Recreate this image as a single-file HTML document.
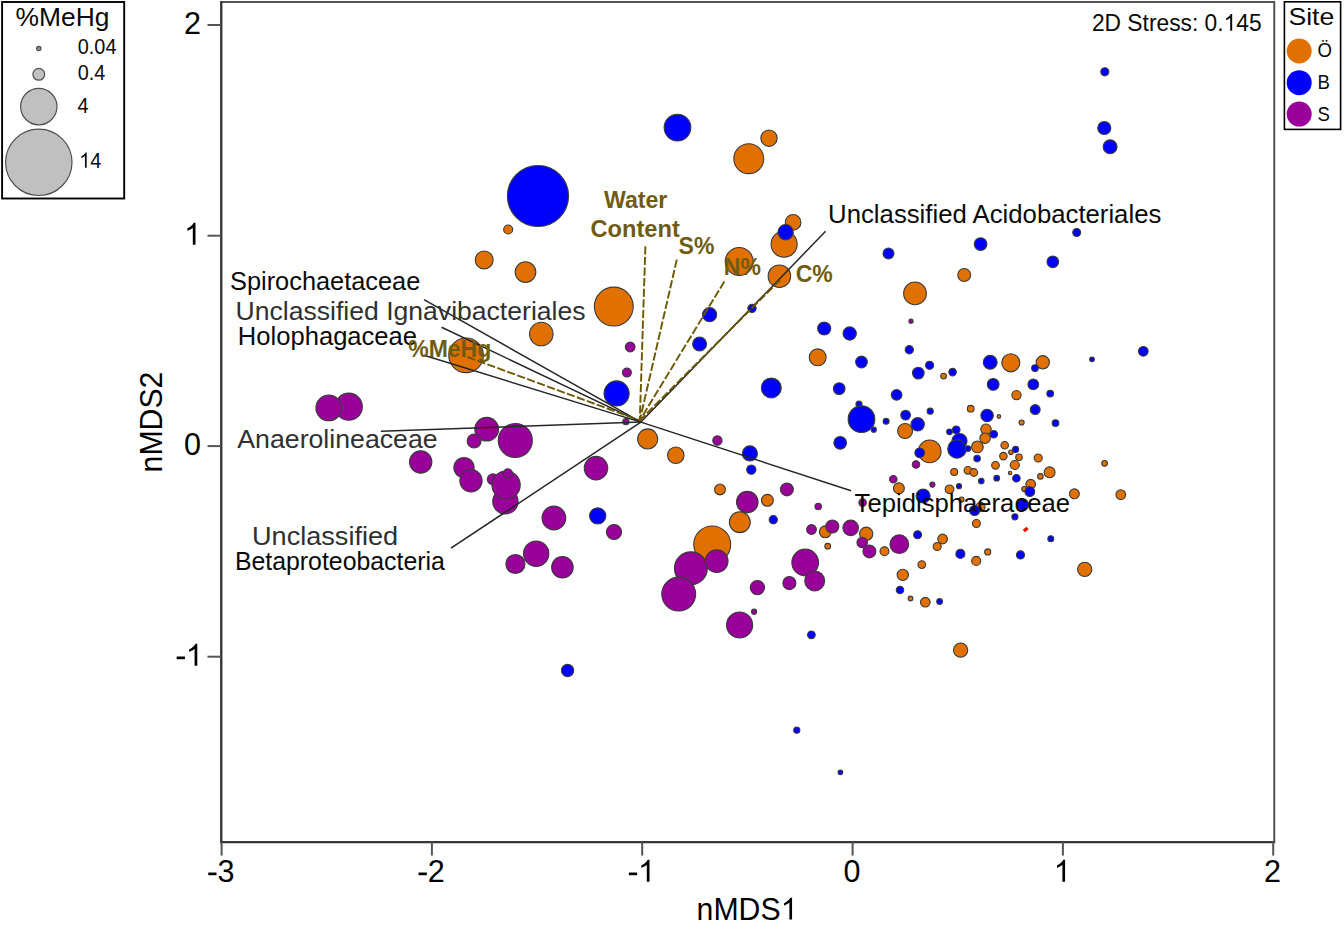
<!DOCTYPE html>
<html><head><meta charset="utf-8"><title>nMDS</title>
<style>
html,body{margin:0;padding:0;background:#fff;}
body{width:1344px;height:926px;overflow:hidden;font-family:"Liberation Sans",sans-serif;}
svg{display:block;}
text{font-family:"Liberation Sans",sans-serif;}
.lab{font-size:25.5px;fill:#222;}
.env{font-size:22.5px;font-weight:bold;fill:#7A6420;}
.tick{font-size:32px;fill:#000;}
.c{stroke:#3a3a3a;stroke-width:1.1;}
</style></head><body>
<svg width="1344" height="926" viewBox="0 0 1344 926">
<rect x="0" y="0" width="1344" height="926" fill="#fff"/>
<rect x="221.25" y="2" width="1053" height="840" fill="none" stroke="#555" stroke-width="2"/>
<path d="M221.25 1V842.2H1275" fill="none" stroke="#333" stroke-width="2"/>
<line x1="221.6" y1="842" x2="221.6" y2="855.6" stroke="#555" stroke-width="2"/><rect x="208.27" y="872.52" width="8.26" height="2.70" fill="#000"/><text transform="translate(217.49,881.8) scale(0.96,1)" font-size="31.8" fill="#000">3</text>
<line x1="431.9" y1="842" x2="431.9" y2="855.6" stroke="#555" stroke-width="2"/><rect x="418.57" y="872.52" width="8.26" height="2.70" fill="#000"/><text transform="translate(427.79,881.8) scale(0.96,1)" font-size="31.8" fill="#000">2</text>
<line x1="642.1999999999999" y1="842" x2="642.1999999999999" y2="855.6" stroke="#555" stroke-width="2"/><rect x="628.87" y="872.52" width="8.26" height="2.70" fill="#000"/><path d="M763 0H583V1147Q518 1085 412.5 1023Q307 961 223 930V1104Q374 1175 487 1276Q600 1377 647 1472H763Z" transform="translate(638.09,881.8) scale(0.014941,-0.014941)" fill="#000"/>
<line x1="852.6" y1="842" x2="852.6" y2="855.6" stroke="#555" stroke-width="2"/><text transform="translate(843.39,881.8) scale(0.96,1)" font-size="31.8" fill="#000">0</text>
<line x1="1062.9" y1="842" x2="1062.9" y2="855.6" stroke="#555" stroke-width="2"/><path d="M763 0H583V1147Q518 1085 412.5 1023Q307 961 223 930V1104Q374 1175 487 1276Q600 1377 647 1472H763Z" transform="translate(1053.69,881.8) scale(0.014941,-0.014941)" fill="#000"/>
<line x1="1273.2" y1="842" x2="1273.2" y2="855.6" stroke="#555" stroke-width="2"/><text transform="translate(1263.99,881.8) scale(0.96,1)" font-size="31.8" fill="#000">2</text>
<line x1="207.5" y1="25" x2="221" y2="25" stroke="#555" stroke-width="2"/><text transform="translate(184.09,34.1) scale(0.96,1)" font-size="31.8" fill="#000">2</text>
<line x1="207.5" y1="235.7" x2="221" y2="235.7" stroke="#555" stroke-width="2"/><path d="M763 0H583V1147Q518 1085 412.5 1023Q307 961 223 930V1104Q374 1175 487 1276Q600 1377 647 1472H763Z" transform="translate(184.09,244.8) scale(0.014941,-0.014941)" fill="#000"/>
<line x1="207.5" y1="446.1" x2="221" y2="446.1" stroke="#555" stroke-width="2"/><text transform="translate(184.09,455.2) scale(0.96,1)" font-size="31.8" fill="#000">0</text>
<line x1="207.5" y1="656.7" x2="221" y2="656.7" stroke="#555" stroke-width="2"/><rect x="176.67" y="656.52" width="8.26" height="2.70" fill="#000"/><path d="M763 0H583V1147Q518 1085 412.5 1023Q307 961 223 930V1104Q374 1175 487 1276Q600 1377 647 1472H763Z" transform="translate(185.89,665.8) scale(0.014941,-0.014941)" fill="#000"/>
<text transform="translate(696.6,919.5) scale(0.96,1)" font-size="31.51" fill="#000">nMDS</text><path d="M763 0H583V1147Q518 1085 412.5 1023Q307 961 223 930V1104Q374 1175 487 1276Q600 1377 647 1472H763Z" transform="translate(780.77,919.5) scale(0.014795,-0.014795)" fill="#000"/>
<text transform="translate(162,422) rotate(-90) scale(0.96,1)" font-size="31.5" fill="#000" text-anchor="middle">nMDS2</text>
<g id="pts">
<circle class="c" cx="538" cy="196" r="30.55" fill="#0000FF"/><circle class="c" cx="677.5" cy="127.6" r="13.35" fill="#0000FF"/><circle class="c" cx="508.2" cy="229.5" r="4.55" fill="#E07000"/><circle class="c" cx="484.2" cy="260" r="8.95" fill="#E07000"/><circle class="c" cx="525.5" cy="272.1" r="10.35" fill="#E07000"/><circle class="c" cx="613.8" cy="306.6" r="19.45" fill="#E07000"/><circle class="c" cx="769" cy="138.2" r="8.15" fill="#E07000"/><circle class="c" cx="748.8" cy="158.7" r="14.95" fill="#E07000"/><circle class="c" cx="793.1" cy="222.4" r="7.85" fill="#E07000"/><circle class="c" cx="784.1" cy="244.2" r="13.05" fill="#E07000"/><circle class="c" cx="785.6" cy="232.2" r="7.65" fill="#0000FF"/><circle class="c" cx="739.2" cy="261.5" r="13.95" fill="#E07000"/><circle class="c" cx="779.4" cy="276.2" r="11.25" fill="#E07000"/><circle class="c" cx="888.5" cy="253.4" r="5.45" fill="#0000FF"/><circle class="c" cx="964.2" cy="275" r="6.45" fill="#E07000"/><circle class="c" cx="915" cy="293.4" r="11.35" fill="#E07000"/><circle class="c" cx="1104.8" cy="71.8" r="4.05" fill="#0000FF"/><circle class="c" cx="1104.3" cy="128" r="6.55" fill="#0000FF"/><circle class="c" cx="1110.1" cy="146.8" r="6.95" fill="#0000FF"/><circle class="c" cx="1076.7" cy="232.5" r="3.95" fill="#0000FF"/><circle class="c" cx="980.6" cy="244.1" r="6.35" fill="#0000FF"/><circle class="c" cx="1052.8" cy="261.8" r="5.85" fill="#0000FF"/><circle class="c" cx="541.3" cy="334" r="11.75" fill="#E07000"/><circle class="c" cx="466.1" cy="355.3" r="17.35" fill="#E07000"/><circle class="c" cx="348.8" cy="406.7" r="13.55" fill="#990099"/><circle class="c" cx="328.8" cy="407.9" r="12.85" fill="#990099"/><circle class="c" cx="486.7" cy="429.2" r="11.85" fill="#990099"/><circle class="c" cx="474.1" cy="441" r="6.95" fill="#990099"/><circle class="c" cx="515.3" cy="440.5" r="17.05" fill="#990099"/><circle class="c" cx="420.7" cy="462" r="11.15" fill="#990099"/><circle class="c" cx="464" cy="467.6" r="10.15" fill="#990099"/><circle class="c" cx="471" cy="480.8" r="11.15" fill="#990099"/><circle class="c" cx="492.9" cy="479.3" r="5.55" fill="#990099"/><circle class="c" cx="505.4" cy="501.4" r="12.65" fill="#990099"/><circle class="c" cx="506.1" cy="485.1" r="14.15" fill="#990099"/><circle class="c" cx="507.9" cy="473.3" r="4.55" fill="#990099"/><circle class="c" cx="553.9" cy="518" r="11.85" fill="#990099"/><circle class="c" cx="536.2" cy="553.7" r="12.65" fill="#990099"/><circle class="c" cx="515.4" cy="564" r="9.55" fill="#990099"/><circle class="c" cx="562.4" cy="567.3" r="10.75" fill="#990099"/><circle class="c" cx="630.2" cy="347" r="4.85" fill="#990099"/><circle class="c" cx="626.9" cy="372.6" r="4.45" fill="#990099"/><circle class="c" cx="616.6" cy="393.4" r="12.55" fill="#0000FF"/><circle class="c" cx="625.9" cy="421.7" r="3.05" fill="#990099"/><circle class="c" cx="647.7" cy="438.9" r="10.05" fill="#E07000"/><circle class="c" cx="675.8" cy="455.2" r="8.25" fill="#E07000"/><circle class="c" cx="717.4" cy="440.5" r="4.65" fill="#990099"/><circle class="c" cx="749.9" cy="453.4" r="7.55" fill="#0000FF"/><circle class="c" cx="709.6" cy="314.7" r="7.05" fill="#0000FF"/><circle class="c" cx="699.6" cy="344" r="6.95" fill="#0000FF"/><circle class="c" cx="752" cy="308.4" r="4.15" fill="#0000FF"/><circle class="c" cx="824.2" cy="328.5" r="6.55" fill="#0000FF"/><circle class="c" cx="849.7" cy="333.5" r="6.65" fill="#0000FF"/><circle class="c" cx="817.7" cy="357.3" r="8.45" fill="#E07000"/><circle class="c" cx="861.5" cy="362" r="5.85" fill="#0000FF"/><circle class="c" cx="771.3" cy="387.9" r="9.95" fill="#0000FF"/><circle class="c" cx="839.2" cy="388.6" r="5.85" fill="#0000FF"/><circle class="c" cx="859" cy="404.2" r="3.05" fill="#0000FF"/><circle class="c" cx="861.5" cy="419.2" r="13.35" fill="#0000FF"/><circle class="c" cx="886.1" cy="421.2" r="2.95" fill="#0000FF"/><circle class="c" cx="873.8" cy="429.7" r="2.55" fill="#0000FF"/><circle class="c" cx="840.2" cy="442.8" r="6.35" fill="#0000FF"/><circle class="c" cx="896.6" cy="394.8" r="5.35" fill="#0000FF"/><circle class="c" cx="911" cy="321.2" r="2.05" fill="#990099"/><circle class="c" cx="909.3" cy="349.8" r="4.15" fill="#0000FF"/><circle class="c" cx="929.6" cy="365.3" r="4.05" fill="#0000FF"/><circle class="c" cx="918.3" cy="373.1" r="5.85" fill="#0000FF"/><circle class="c" cx="943.6" cy="376.1" r="2.85" fill="#E07000"/><circle class="c" cx="952.6" cy="372.1" r="3.75" fill="#0000FF"/><circle class="c" cx="990.2" cy="362.3" r="6.95" fill="#0000FF"/><circle class="c" cx="1010.8" cy="362.8" r="9.05" fill="#E07000"/><circle class="c" cx="1042.8" cy="362.3" r="6.65" fill="#E07000"/><circle class="c" cx="1035" cy="368.1" r="3.35" fill="#0000FF"/><circle class="c" cx="1092" cy="359.3" r="2.35" fill="#0000FF"/><circle class="c" cx="1143.3" cy="351.3" r="4.85" fill="#0000FF"/><circle class="c" cx="993.2" cy="384.4" r="5.85" fill="#0000FF"/><circle class="c" cx="1033.3" cy="384.4" r="5.35" fill="#0000FF"/><circle class="c" cx="1016.5" cy="395.1" r="4.65" fill="#E07000"/><circle class="c" cx="1050.2" cy="393.6" r="3.35" fill="#0000FF"/><circle class="c" cx="905.6" cy="415.1" r="4.85" fill="#0000FF"/><circle class="c" cx="930.2" cy="411.2" r="3.05" fill="#0000FF"/><circle class="c" cx="905.1" cy="431" r="7.45" fill="#E07000"/><circle class="c" cx="917.7" cy="424.3" r="6.65" fill="#0000FF"/><circle class="c" cx="929.7" cy="451.4" r="11.35" fill="#E07000"/><circle class="c" cx="919.7" cy="452.8" r="4.85" fill="#0000FF"/><circle class="c" cx="916" cy="464.5" r="3.75" fill="#990099"/><circle class="c" cx="893.3" cy="479.2" r="3.75" fill="#990099"/><circle class="c" cx="898.9" cy="488.3" r="5.45" fill="#E07000"/><circle class="c" cx="932.4" cy="484.6" r="2.55" fill="#990099"/><circle class="c" cx="923.1" cy="496" r="7.05" fill="#0000FF"/><circle class="c" cx="949.5" cy="489.3" r="4.35" fill="#E07000"/><circle class="c" cx="959" cy="486.2" r="2.55" fill="#0000FF"/><circle class="c" cx="954.2" cy="472" r="3.55" fill="#E07000"/><circle class="c" cx="967.9" cy="470.3" r="3.85" fill="#E07000"/><circle class="c" cx="973.8" cy="472.5" r="3.85" fill="#E07000"/><circle class="c" cx="981.3" cy="481.1" r="2.75" fill="#0000FF"/><circle class="c" cx="977.1" cy="458.6" r="3.25" fill="#0000FF"/><circle class="c" cx="949.5" cy="431.8" r="2.85" fill="#0000FF"/><circle class="c" cx="956.2" cy="429.8" r="3.85" fill="#0000FF"/><circle class="c" cx="959.5" cy="441" r="7.55" fill="#0000FF"/><circle class="c" cx="957" cy="448.9" r="9.25" fill="#0000FF"/><circle class="c" cx="967.9" cy="448.6" r="2.85" fill="#0000FF"/><circle class="c" cx="986" cy="429.3" r="5.25" fill="#E07000"/><circle class="c" cx="977.4" cy="446.9" r="5.85" fill="#E07000"/><circle class="c" cx="985.1" cy="438.2" r="5.25" fill="#E07000"/><circle class="c" cx="993.8" cy="434.3" r="3.75" fill="#0000FF"/><circle class="c" cx="987.1" cy="415.5" r="6.25" fill="#0000FF"/><circle class="c" cx="970.7" cy="408.7" r="3.35" fill="#E07000"/><circle class="c" cx="998.9" cy="416.5" r="1.85" fill="#E07000"/><circle class="c" cx="1004.7" cy="445.2" r="3.75" fill="#E07000"/><circle class="c" cx="1010.9" cy="452.3" r="2.25" fill="#E07000"/><circle class="c" cx="1015.6" cy="449.4" r="3.05" fill="#0000FF"/><circle class="c" cx="1003.4" cy="456.1" r="3.75" fill="#E07000"/><circle class="c" cx="1019" cy="457.3" r="3.25" fill="#E07000"/><circle class="c" cx="995.5" cy="465.3" r="3.85" fill="#E07000"/><circle class="c" cx="1014.8" cy="465" r="4.55" fill="#E07000"/><circle class="c" cx="1010.1" cy="473" r="1.75" fill="#E07000"/><circle class="c" cx="996.7" cy="478.2" r="2.85" fill="#0000FF"/><circle class="c" cx="1016.4" cy="478.2" r="3.75" fill="#0000FF"/><circle class="c" cx="1038.2" cy="458" r="4.05" fill="#E07000"/><circle class="c" cx="1049.6" cy="472.3" r="5.45" fill="#E07000"/><circle class="c" cx="1040.4" cy="476.4" r="2.75" fill="#E07000"/><circle class="c" cx="1030.7" cy="484.2" r="4.85" fill="#E07000"/><circle class="c" cx="1024.3" cy="489.1" r="2.55" fill="#E07000"/><circle class="c" cx="1029.8" cy="491.6" r="4.95" fill="#0000FF"/><circle class="c" cx="1022.8" cy="504.7" r="5.85" fill="#0000FF"/><circle class="c" cx="1074.4" cy="493.8" r="4.95" fill="#E07000"/><circle class="c" cx="1104.6" cy="463.3" r="2.85" fill="#E07000"/><circle class="c" cx="980.5" cy="506.8" r="4.55" fill="#E07000"/><circle class="c" cx="974.6" cy="510.5" r="5.05" fill="#0000FF"/><circle class="c" cx="961.5" cy="499.6" r="2.55" fill="#E07000"/><circle class="c" cx="1014.9" cy="516.8" r="3.05" fill="#0000FF"/><circle class="c" cx="976.4" cy="523.5" r="3.95" fill="#E07000"/><rect x="1023.30" y="527.80" width="4.8" height="3.4" fill="#FF0000" transform="rotate(-38 1025.7 529.5)"/><circle cx="1046.9" cy="508.8" r="1" fill="#ff6060"/><circle class="c" cx="1050.8" cy="538.7" r="2.95" fill="#0000FF"/><circle class="c" cx="917.6" cy="534.8" r="3.95" fill="#0000FF"/><circle class="c" cx="884.5" cy="551.3" r="4.45" fill="#E07000"/><circle class="c" cx="899.3" cy="544.2" r="9.35" fill="#990099"/><circle class="c" cx="942.6" cy="539" r="4.85" fill="#E07000"/><circle class="c" cx="937.2" cy="546.5" r="4.05" fill="#E07000"/><circle class="c" cx="1035.2" cy="409.6" r="4.95" fill="#0000FF"/><circle class="c" cx="1021.6" cy="422.5" r="2.55" fill="#E07000"/><circle class="c" cx="1055.5" cy="423.1" r="3.35" fill="#0000FF"/><circle class="c" cx="1120.8" cy="494.6" r="4.85" fill="#E07000"/><circle class="c" cx="596" cy="468.1" r="11.75" fill="#990099"/><circle class="c" cx="597.7" cy="515.9" r="8.15" fill="#0000FF"/><circle class="c" cx="614" cy="532" r="7.55" fill="#990099"/><circle class="c" cx="751.3" cy="469.6" r="4.65" fill="#0000FF"/><circle class="c" cx="720" cy="489.4" r="5.45" fill="#E07000"/><circle class="c" cx="786.9" cy="489.4" r="6.45" fill="#990099"/><circle class="c" cx="747.3" cy="502.1" r="10.75" fill="#990099"/><circle class="c" cx="767.4" cy="500.3" r="5.95" fill="#E07000"/><circle class="c" cx="818.2" cy="506.5" r="3.25" fill="#990099"/><circle class="c" cx="773.3" cy="519.7" r="4.15" fill="#0000FF"/><circle class="c" cx="739.8" cy="522.2" r="10.45" fill="#E07000"/><circle class="c" cx="811.5" cy="529.5" r="4.85" fill="#990099"/><circle class="c" cx="825.3" cy="531.8" r="5.95" fill="#E07000"/><circle class="c" cx="832.3" cy="526.5" r="6.55" fill="#990099"/><circle class="c" cx="827.7" cy="546.2" r="2.85" fill="#E07000"/><circle class="c" cx="712.2" cy="544.5" r="18.45" fill="#E07000"/><circle class="c" cx="690.9" cy="568.3" r="16.45" fill="#990099"/><circle class="c" cx="716.7" cy="561.1" r="11.35" fill="#990099"/><circle class="c" cx="678.7" cy="594.1" r="16.95" fill="#990099"/><circle class="c" cx="805.2" cy="562.5" r="13.35" fill="#990099"/><circle class="c" cx="814.7" cy="580.9" r="9.95" fill="#990099"/><circle class="c" cx="789.4" cy="583.1" r="6.55" fill="#990099"/><circle class="c" cx="757.4" cy="587.6" r="7.15" fill="#990099"/><circle class="c" cx="754.1" cy="611.7" r="2.55" fill="#990099"/><circle class="c" cx="739.6" cy="625" r="13.05" fill="#990099"/><circle class="c" cx="811.4" cy="634.8" r="3.85" fill="#0000FF"/><circle class="c" cx="567.6" cy="670.5" r="6.15" fill="#0000FF"/><circle class="c" cx="862.6" cy="502.6" r="3.75" fill="#990099"/><circle class="c" cx="850.7" cy="527.9" r="7.75" fill="#990099"/><circle class="c" cx="866.2" cy="533.8" r="6.65" fill="#E07000"/><circle class="c" cx="862.2" cy="542.5" r="5.25" fill="#990099"/><circle class="c" cx="869.4" cy="551.4" r="6.45" fill="#990099"/><circle class="c" cx="960.4" cy="553.9" r="4.55" fill="#0000FF"/><circle class="c" cx="976.2" cy="560.9" r="4.55" fill="#E07000"/><circle class="c" cx="987.7" cy="551.9" r="3.05" fill="#E07000"/><circle class="c" cx="1020.5" cy="554.9" r="4.05" fill="#0000FF"/><circle class="c" cx="1084.7" cy="569.4" r="7.15" fill="#E07000"/><circle class="c" cx="921.8" cy="564.6" r="3.85" fill="#E07000"/><circle class="c" cx="902.8" cy="574.9" r="5.65" fill="#E07000"/><circle class="c" cx="900" cy="590" r="3.75" fill="#0000FF"/><circle class="c" cx="910.5" cy="598.5" r="2.35" fill="#E07000"/><circle class="c" cx="925.3" cy="602.2" r="4.85" fill="#E07000"/><circle class="c" cx="939.6" cy="601.5" r="2.85" fill="#0000FF"/><circle class="c" cx="960.6" cy="650.1" r="7.15" fill="#E07000"/><circle class="c" cx="796.8" cy="730.2" r="3.05" fill="#0000FF"/><circle class="c" cx="840.4" cy="772.3" r="2.35" fill="#0000FF"/>
</g>
<line x1="640.9" y1="422.1" x2="424" y2="299.7" stroke="#262626" stroke-width="1.5"/><line x1="640.9" y1="422.1" x2="441.6" y2="327.2" stroke="#262626" stroke-width="1.5"/><line x1="640.9" y1="422.1" x2="424" y2="355.3" stroke="#262626" stroke-width="1.5"/><line x1="640.9" y1="422.1" x2="380.9" y2="431.3" stroke="#262626" stroke-width="1.5"/><line x1="640.9" y1="422.1" x2="451" y2="548.2" stroke="#262626" stroke-width="1.5"/><line x1="640.9" y1="422.1" x2="851.1" y2="490.8" stroke="#262626" stroke-width="1.5"/><line x1="640.9" y1="422.1" x2="825.6" y2="231.3" stroke="#262626" stroke-width="1.5"/><line x1="645.4" y1="246.3" x2="639.8" y2="420.4" stroke="#6B5800" stroke-width="1.9" stroke-dasharray="8.2 2.4"/><line x1="676.8" y1="259.6" x2="639.8" y2="420.4" stroke="#6B5800" stroke-width="1.9" stroke-dasharray="8.2 2.4"/><line x1="724.4" y1="281.4" x2="639.8" y2="420.4" stroke="#6B5800" stroke-width="1.9" stroke-dasharray="8.2 2.4"/><line x1="780" y1="280" x2="639.8" y2="420.4" stroke="#6B5800" stroke-width="1.9" stroke-dasharray="8.2 2.4"/><line x1="467.5" y1="357.0" x2="639.8" y2="420.4" stroke="#6B5800" stroke-width="1.9" stroke-dasharray="8.2 2.4"/>
<text transform="translate(230,290) scale(0.976,1)" font-size="26" fill="#0a0a0a" text-anchor="start">Spirochaetaceae</text>
<text transform="translate(235.5,319.8) scale(1.0224,1.0)" font-size="26" fill="#303030" text-anchor="start">Unclassified Ignavibacteriales</text>
<text transform="translate(237.85,344.5) scale(0.9844,1)" font-size="26" fill="#0a0a0a" text-anchor="start">Holophagaceae</text>
<text transform="translate(237.3,448) scale(1.0269,1.0)" font-size="26" fill="#303030" text-anchor="start">Anaerolineaceae</text>
<text transform="translate(252,545) scale(1.043,1.0)" font-size="26" fill="#303030" text-anchor="start">Unclassified</text>
<text transform="translate(234.9,569.8) scale(0.9564,1)" font-size="26" fill="#0a0a0a" text-anchor="start">Betaproteobacteria</text>
<text transform="translate(854.6,512.2) scale(0.9873,1)" font-size="26" fill="#0a0a0a" text-anchor="start">Tepidisphaeraceae</text>
<text transform="translate(828.1,222.8) scale(0.99,1)" font-size="26" fill="#0a0a0a" text-anchor="start">Unclassified Acidobacteriales</text>
<text transform="translate(604,207.6) scale(1.006,1)" font-size="23" fill="#705C10" font-weight="bold" text-anchor="start">Water</text>
<text transform="translate(590.5,236.8) scale(1.028,1)" font-size="23" fill="#705C10" font-weight="bold" text-anchor="start">Content</text>
<text transform="translate(678.6,254.4) scale(1.0,1)" font-size="23" fill="#705C10" font-weight="bold" text-anchor="start">S%</text>
<text transform="translate(723.8,275.2) scale(1.0,1)" font-size="23" fill="#705C10" font-weight="bold" text-anchor="start">N%</text>
<text transform="translate(795.7,281.5) scale(1.0,1)" font-size="23" fill="#705C10" font-weight="bold" text-anchor="start">C%</text>
<text transform="translate(408.2,357.4) scale(1.0,1)" font-size="23" fill="#705C10" font-weight="bold" text-anchor="start">%MeHg</text>
<text transform="translate(1091.90,30.8) scale(0.9409,1)" font-size="24.23" fill="#0a0a0a" xml:space="preserve">2D Stress: 0.</text><path d="M763 0H583V1147Q518 1085 412.5 1023Q307 961 223 930V1104Q374 1175 487 1276Q600 1377 647 1472H763Z" transform="translate(1223.68,30.8) scale(0.011133,-0.011377)" fill="#0a0a0a"/><text transform="translate(1236.36,30.8) scale(0.9409,1)" font-size="24.23" fill="#0a0a0a" xml:space="preserve">45</text>
<rect x="1284.4" y="1.8" width="56.2" height="127.6" fill="#fff" stroke="#000" stroke-width="1.6"/>
<text transform="translate(1288.4,25) scale(1.065,0.96)" font-size="25" fill="#0a0a0a" text-anchor="start">Site</text>
<circle cx="1299.2" cy="51" r="12.5" fill="#E07000"/><text transform="translate(1317.6,57.3) scale(0.92,1)" font-size="20.2" fill="#0a0a0a" text-anchor="start">Ö</text>
<circle cx="1299.2" cy="82.7" r="12.5" fill="#0000FF"/><text transform="translate(1317.6,88.6) scale(0.92,1)" font-size="20.2" fill="#0a0a0a" text-anchor="start">B</text>
<circle cx="1299.2" cy="114.1" r="12.5" fill="#990099"/><text transform="translate(1317.6,121) scale(0.92,1)" font-size="20.2" fill="#0a0a0a" text-anchor="start">S</text>
<rect x="2.1" y="2" width="122.1" height="196.5" fill="#fff" stroke="#000" stroke-width="1.9"/>
<text transform="translate(15.6,25.7) scale(1.023,1)" font-size="25.8" fill="#0a0a0a" text-anchor="start">%MeHg</text>
<circle cx="38.8" cy="48.5" r="2.2" fill="#909090" stroke="#505050" stroke-width="1.2"/><text transform="translate(77.80,53.599999999999994) scale(0.8970,1)" font-size="22.15" fill="#0a0a0a" xml:space="preserve">0.04</text>
<circle cx="38.8" cy="74.3" r="5.9" fill="#C0C0C0" stroke="#505050" stroke-width="1.2"/><text transform="translate(77.80,80.3) scale(0.8970,1)" font-size="22.15" fill="#0a0a0a" xml:space="preserve">0.4</text>
<circle cx="38.8" cy="106.6" r="18.2" fill="#C0C0C0" stroke="#505050" stroke-width="1.2"/><text transform="translate(77.60,112.89999999999999) scale(0.8970,1)" font-size="22.15" fill="#0a0a0a" xml:space="preserve">4</text>
<circle cx="38.8" cy="162.3" r="33.2" fill="#C0C0C0" stroke="#505050" stroke-width="1.2"/><path d="M763 0H583V1147Q518 1085 412.5 1023Q307 961 223 930V1104Q374 1175 487 1276Q600 1377 647 1472H763Z" transform="translate(79.30,167.8) scale(0.009702,-0.010400)" fill="#0a0a0a"/><text transform="translate(90.35,167.8) scale(0.8970,1)" font-size="22.15" fill="#0a0a0a" xml:space="preserve">4</text>
</svg>
</body></html>
